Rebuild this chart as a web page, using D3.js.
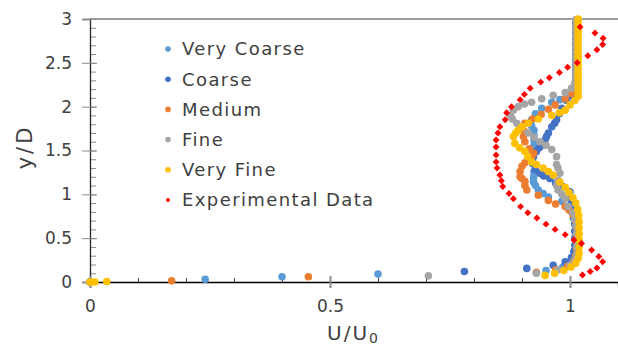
<!DOCTYPE html>
<html>
<head>
<meta charset="utf-8">
<script src="https://cdn.jsdelivr.net/npm/d3@7"></script>
<style>
  body { margin: 0; background: #fff; }
  svg { display: block; font-family: 'DejaVu Sans', sans-serif; }
</style>
</head>
<body>
<div id="chart"></div>
<script>
// grid refinement study: velocity profiles, y/D against U/U0
const seriesNames = ['Very Coarse', 'Coarse', 'Medium', 'Fine', 'Very Fine', 'Experimental Data'];
const seriesColors = ['#5b9bd5', '#4472c4', '#ed7d31', '#a5a5a5', '#ffc000', '#ff0000'];

const xTicks = [0, 0.5, 1];
const yTicks = [0, 0.5, 1, 1.5, 2, 2.5, 3];

const veryCoarse = [
  [0, 0], [0.24, 0.03], [0.4, 0.06], [0.6, 0.09], [0.95, 0.13], [0.985, 0.17], [1.0, 0.22],
  [1.008, 0.28], [1.01, 0.35], [1.012, 0.42], [1.012, 0.5], [1.012, 0.58], [1.01, 0.66],
  [1.007, 0.73], [1.003, 0.8], [0.993, 0.86], [0.983, 0.92], [0.955, 0.97], [0.944, 1.01],
  [0.934, 1.05], [0.928, 1.1], [0.924, 1.14], [0.924, 1.18], [0.925, 1.22], [0.925, 1.26],
  [0.922, 1.35], [0.92, 1.42], [0.922, 1.5], [0.925, 1.56], [0.925, 1.62], [0.925, 1.67],
  [0.925, 1.73], [0.92, 1.78], [0.92, 1.85], [0.928, 1.92], [0.941, 1.98], [0.962, 2.05],
  [0.979, 2.08], [0.993, 2.11], [1.0, 2.14], [1.008, 2.19], [1.012, 2.25], [1.012, 2.31],
  [1.012, 2.37], [1.012, 2.43], [1.012, 2.49], [1.012, 2.55], [1.012, 2.61], [1.012, 2.67],
  [1.012, 2.73], [1.012, 2.79], [1.012, 2.85], [1.012, 2.91], [1.012, 2.97]
];

const coarse = [
  [0, 0], [0.78, 0.12], [0.91, 0.155], [0.965, 0.19], [0.99, 0.23], [1.003, 0.28], [1.008, 0.35],
  [1.01, 0.42], [1.01, 0.5], [1.01, 0.58], [1.01, 0.66], [1.008, 0.74], [1.005, 0.82],
  [1.003, 0.9], [1.0, 0.97], [1.0, 1.03], [0.985, 1.09], [0.97, 1.13], [0.958, 1.18],
  [0.945, 1.21], [0.9375, 1.24], [0.9275, 1.28], [0.924, 1.35], [0.924, 1.43], [0.93, 1.49],
  [0.936, 1.53], [0.941, 1.56], [0.948, 1.62], [0.951, 1.66], [0.955, 1.7], [0.962, 1.77],
  [0.968, 1.81], [0.972, 1.85], [0.978, 1.92], [0.983, 1.98], [0.993, 2.07], [1.006, 2.12],
  [1.012, 2.17], [1.012, 2.23], [1.012, 2.29], [1.012, 2.35], [1.012, 2.41], [1.012, 2.47],
  [1.012, 2.53], [1.012, 2.59], [1.012, 2.65], [1.012, 2.71], [1.012, 2.77], [1.012, 2.83],
  [1.012, 2.89], [1.012, 2.95]
];

const medium = [
  [0, 0], [0.17, 0.015], [0.455, 0.06], [0.93, 0.11], [0.97, 0.14], [0.995, 0.18], [1.008, 0.24],
  [1.012, 0.3], [1.014, 0.38], [1.014, 0.46], [1.014, 0.54], [1.014, 0.62], [1.012, 0.7],
  [1.006, 0.77], [0.998, 0.82], [0.99, 0.86], [0.97, 0.89], [0.955, 0.93], [0.934, 0.99],
  [0.91, 1.05], [0.906, 1.1], [0.906, 1.15], [0.9, 1.18], [0.896, 1.2], [0.896, 1.26],
  [0.9, 1.32], [0.906, 1.36], [0.913, 1.39], [0.92, 1.43], [0.924, 1.47], [0.915, 1.52],
  [0.906, 1.6], [0.903, 1.66], [0.905, 1.72], [0.906, 1.81], [0.922, 1.86], [0.94, 1.91],
  [0.955, 1.97], [0.969, 2.02], [0.99, 2.09], [1.003, 2.15], [1.01, 2.2], [1.013, 2.26],
  [1.013, 2.32], [1.013, 2.38], [1.013, 2.44], [1.013, 2.5], [1.013, 2.56], [1.013, 2.62],
  [1.013, 2.68], [1.013, 2.74], [1.013, 2.8], [1.013, 2.86], [1.013, 2.92], [1.013, 2.98]
];

const fine = [
  [0, 0], [0.705, 0.07], [0.93, 0.1], [0.975, 0.14], [1.0, 0.19], [1.01, 0.25], [1.014, 0.32],
  [1.014, 0.4], [1.014, 0.48], [1.014, 0.56], [1.012, 0.64], [1.01, 0.72], [1.006, 0.79],
  [0.996, 0.86], [0.99, 0.95], [0.983, 1.0], [0.975, 1.05], [0.972, 1.1], [0.975, 1.16],
  [0.979, 1.24], [0.975, 1.3], [0.972, 1.34], [0.972, 1.43], [0.962, 1.51], [0.95, 1.56],
  [0.9375, 1.6], [0.925, 1.65], [0.913, 1.7], [0.9, 1.76], [0.889, 1.81], [0.88, 1.86],
  [0.876, 1.9], [0.882, 1.96], [0.892, 2.0], [0.905, 2.03], [0.92, 2.05], [0.941, 2.09],
  [0.965, 2.13], [0.99, 2.16], [1.003, 2.21], [1.01, 2.27], [1.012, 2.33], [1.012, 2.39],
  [1.012, 2.45], [1.012, 2.51], [1.012, 2.57], [1.012, 2.63], [1.012, 2.69], [1.012, 2.75],
  [1.012, 2.81], [1.012, 2.87], [1.012, 2.93], [1.012, 2.99]
];

const veryFine = [
  [0, 0], [0.01, 0], [0.035, 0.005], [0.948, 0.075], [0.968, 0.1], [0.987, 0.13], [1.002, 0.17],
  [1.012, 0.215], [1.017, 0.27], [1.019, 0.33], [1.019, 0.4], [1.019, 0.48], [1.019, 0.55],
  [1.019, 0.62], [1.019, 0.69], [1.018, 0.76], [1.016, 0.83], [1.012, 0.9], [1.006, 0.96],
  [0.998, 1.02], [0.99, 1.08], [0.979, 1.14], [0.965, 1.22], [0.955, 1.26], [0.944, 1.3],
  [0.93, 1.34], [0.92, 1.37], [0.912, 1.43], [0.906, 1.49], [0.895, 1.53], [0.885, 1.58],
  [0.882, 1.66], [0.887, 1.7], [0.892, 1.73], [0.9, 1.77], [0.913, 1.81], [0.934, 1.86],
  [0.962, 1.9], [0.978, 1.93], [0.99, 1.96], [1.0, 2.02], [1.01, 2.07], [1.017, 2.12],
  [1.017, 2.17], [1.017, 2.22], [1.017, 2.27], [1.017, 2.32], [1.017, 2.37], [1.017, 2.42],
  [1.017, 2.47], [1.017, 2.52], [1.017, 2.57], [1.017, 2.62], [1.017, 2.67], [1.017, 2.72],
  [1.017, 2.77], [1.017, 2.82], [1.017, 2.87], [1.017, 2.92], [1.017, 2.97], [1.017, 3.0]
];

const experimental = [
  [1.026, 0.08], [1.042, 0.12], [1.056, 0.16], [1.068, 0.23], [1.06, 0.29], [1.045, 0.365],
  [1.024, 0.44], [1.008, 0.48], [0.99, 0.54], [0.969, 0.6], [0.95, 0.66], [0.931, 0.73],
  [0.912, 0.79], [0.897, 0.86], [0.882, 0.95], [0.873, 1.01], [0.86, 1.09], [0.857, 1.155],
  [0.854, 1.22], [0.848, 1.3], [0.846, 1.37], [0.846, 1.45], [0.846, 1.54], [0.846, 1.62],
  [0.85, 1.7], [0.854, 1.77], [0.865, 1.85], [0.868, 1.93], [0.878, 2.0], [0.896, 2.08],
  [0.905, 2.14], [0.917, 2.21], [0.939, 2.28], [0.957, 2.33], [0.978, 2.39], [0.995, 2.45],
  [1.015, 2.5], [1.037, 2.58], [1.056, 2.65], [1.068, 2.71], [1.069, 2.78], [1.052, 2.84],
  [1.021, 2.91]
];

const series = [veryCoarse, coarse, medium, fine, veryFine, experimental];

const W = 618, H = 347;
const margin = { top: 19, right: 0, bottom: 65, left: 90 };
const width = W - margin.left - margin.right;
const height = H - margin.top - margin.bottom;

const svg = d3.select('#chart').append('svg')
  .attr('width', W)
  .attr('height', H);

const g = svg.append('g')
  .attr('transform', 'translate(' + margin.left + ',' + margin.top + ')');

const x = d3.scaleLinear().domain([0, 1.1]).range([0, width]);
const y = d3.scaleLinear().domain([0, 3]).range([height, 0]);

// top frame line
g.append('line')
  .attr('x1', 0).attr('x2', width)
  .attr('y1', 0).attr('y2', 0)
  .attr('stroke', '#7f7f7f').attr('stroke-width', 1.5);

// y axis: minor ticks inside, major ticks crossing
g.append('g')
  .call(d3.axisRight(y).tickValues(d3.range(0, 3.01, 0.1)).tickSize(6).tickFormat(''))
  .call(a => a.select('.domain').remove())
  .call(a => a.selectAll('line').attr('stroke', '#8c8c8c'));

g.append('g')
  .call(d3.axisLeft(y).tickValues(yTicks).tickSize(8).tickPadding(10).tickFormat(d3.format('')))
  .call(a => a.select('.domain').attr('stroke', '#262626').attr('stroke-width', 1.3))
  .call(a => a.selectAll('.tick line').attr('stroke', '#8c8c8c').attr('x2', 7).attr('x1', -8))
  .call(a => a.selectAll('text').attr('font-size', 17).attr('fill', '#404040')
    .attr('font-family', 'DejaVu Sans, sans-serif'));

// x axis
g.append('g')
  .attr('transform', 'translate(0,' + height + ')')
  .call(d3.axisTop(x).tickValues(d3.range(0.1, 1.101, 0.1)).tickSize(4).tickFormat(''))
  .call(a => a.select('.domain').remove())
  .call(a => a.selectAll('line').attr('stroke', '#404040'));

g.append('g')
  .attr('transform', 'translate(0,' + height + ')')
  .call(d3.axisBottom(x).tickValues(xTicks).tickSize(6).tickPadding(12).tickFormat(d3.format('')))
  .call(a => a.select('.domain').attr('stroke', '#000').attr('stroke-width', 1.3))
  .call(a => a.selectAll('.tick line').attr('stroke', '#8c8c8c').attr('stroke-width', 2)
    .attr('y1', -6).attr('y2', 6))
  .call(a => a.selectAll('text').attr('font-size', 17).attr('fill', '#404040')
    .attr('font-family', 'DejaVu Sans, sans-serif'));

// series
const diamond = d3.symbol().type(d3.symbolSquare).size(24);

series.forEach((data, i) => {
  const layer = g.append('g');
  if (i < 5) {
    layer.selectAll('circle')
      .data(data)
      .join('circle')
      .attr('cx', d => x(d[0]))
      .attr('cy', d => y(d[1]))
      .attr('r', 3.8)
      .attr('fill', seriesColors[i]);
  } else {
    layer.selectAll('path')
      .data(data)
      .join('path')
      .attr('d', diamond)
      .attr('transform', d => 'translate(' + x(d[0]) + ',' + y(d[1]) + ') rotate(45)')
      .attr('fill', seriesColors[i]);
  }
});

// legend
const legend = svg.append('g').attr('transform', 'translate(168,49)');
seriesNames.forEach((name, i) => {
  const row = legend.append('g').attr('transform', 'translate(0,' + (i * 30.2) + ')');
  if (i < 5) {
    row.append('circle').attr('r', 2.8).attr('fill', seriesColors[i]);
  } else {
    row.append('path').attr('d', d3.symbol().type(d3.symbolSquare).size(12))
      .attr('transform', 'rotate(45)').attr('fill', seriesColors[i]);
  }
  row.append('text')
    .attr('x', 14)
    .attr('dy', '0.36em')
    .attr('font-size', 18)
    .attr('letter-spacing', 1.4)
    .attr('fill', '#404040')
    .text(name);
});

// axis titles
svg.append('text')
  .attr('transform', 'translate(32,147) rotate(-90)')
  .attr('text-anchor', 'middle')
  .attr('font-size', 21)
  .attr('letter-spacing', 3)
  .attr('fill', '#404040')
  .text('y/D');

const xt = svg.append('text')
  .attr('x', 327)
  .attr('y', 340)
  .attr('font-size', 20)
  .attr('letter-spacing', 2)
  .attr('fill', '#404040')
  .text('U/U');
xt.append('tspan')
  .attr('font-size', 14)
  .attr('dy', 3)
  .text('0');
</script>
</body>
</html>
